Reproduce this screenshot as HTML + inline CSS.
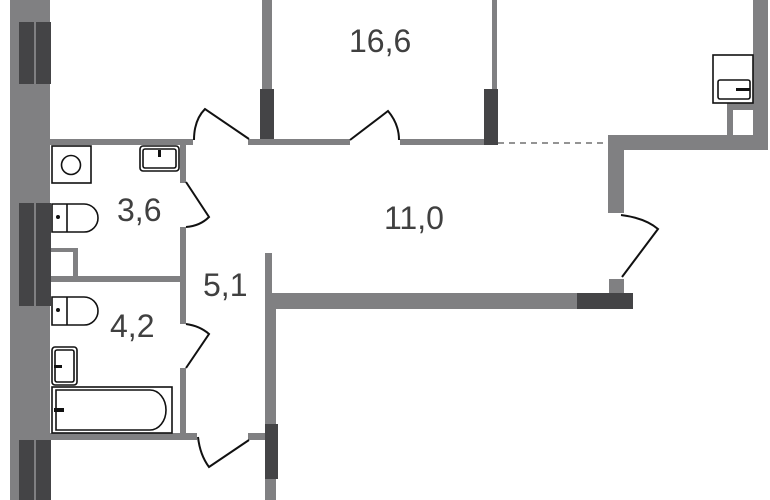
<!DOCTYPE html>
<html><head><meta charset="utf-8"><style>
html,body{margin:0;padding:0;background:#fff;}
svg{display:block;}
text{font-family:"Liberation Sans",Arial,sans-serif;fill:#404040;font-size:32px;}
</style></head><body>
<svg width="770" height="500" viewBox="0 0 770 500" xmlns="http://www.w3.org/2000/svg">
<g fill="#808082">
<rect x="10" y="0" width="40" height="500"/>
<rect x="50" y="139" width="143" height="6"/>
<rect x="248" y="139" width="102" height="6"/>
<rect x="400" y="139" width="90" height="6"/>
<rect x="262" y="0" width="10" height="90"/>
<rect x="492" y="0" width="5" height="90"/>
<rect x="180" y="145" width="6" height="38"/>
<rect x="180" y="227" width="6" height="97"/>
<rect x="180" y="368" width="6" height="72"/>
<rect x="50" y="276" width="136" height="6"/>
<rect x="50" y="248" width="28" height="4"/>
<rect x="73" y="248" width="5" height="30"/>
<rect x="50" y="433" width="147" height="7"/>
<rect x="248" y="433" width="18" height="7"/>
<rect x="265" y="253" width="7" height="56"/>
<rect x="265" y="293" width="313" height="16"/>
<rect x="265" y="309" width="11" height="191"/>
<rect x="608" y="135" width="16" height="78"/>
<rect x="609" y="279" width="15" height="14"/>
<rect x="624" y="135" width="144" height="15"/>
<rect x="753" y="0" width="15" height="150"/>
<rect x="727" y="103" width="6" height="32"/>
<rect x="733" y="103" width="20" height="7"/>
</g>
<g fill="#444446">
<rect x="19" y="22" width="15" height="62"/><rect x="36" y="22" width="15" height="62"/>
<rect x="19" y="203" width="15" height="103"/><rect x="36" y="203" width="15" height="103"/>
<rect x="19" y="440" width="15" height="60"/><rect x="36" y="440" width="15" height="60"/>
<rect x="260" y="89" width="14" height="50"/>
<rect x="484" y="89" width="14" height="56"/>
<rect x="577" y="293" width="56" height="16"/>
<rect x="265" y="424" width="13" height="55"/>
</g>
<line x1="498" y1="143" x2="608" y2="143" stroke="#555" stroke-width="1.2" stroke-dasharray="6,5"/>
<g fill="none" stroke="#111" stroke-width="2">
<path d="M194,140 Q194,120 205,109 L249,139"/>
<path d="M350,140 L388,111 Q399,124 399,140"/>
<path d="M186,182 L209,217 Q200,226 186,227"/>
<path d="M186,324 Q200,326 209,334 L186,368"/>
<path d="M198,437 Q200,455 209,467 L249,440"/>
<path d="M621,215 Q645,218 658,229 L622,277"/>
</g>
<g fill="#fff" stroke="#111" stroke-width="1.6">
<rect x="52" y="146" width="39" height="37"/>
<circle cx="71" cy="165" r="9.5"/>
<rect x="140" y="146" width="39" height="25" rx="3"/>
<rect x="143" y="149" width="33" height="19" rx="2"/>
<path d="M52,204 H84 A14,14 0 0 1 84,232 H52 Z"/>
<line x1="67" y1="204" x2="67" y2="232"/>
<path d="M52,297 H84 A14,14 0 0 1 84,325 H52 Z"/>
<line x1="67" y1="297" x2="67" y2="325"/>
<rect x="52" y="347" width="25" height="38" rx="3"/>
<rect x="55" y="350" width="19" height="32" rx="2"/>
<rect x="52" y="387" width="120" height="46"/>
<path d="M56,390 H150 A16,20 0 0 1 150,430 H56 Z"/>
<rect x="713" y="55" width="40" height="48"/>
<rect x="718" y="80" width="32" height="19" rx="2"/>
</g>
<g fill="#111">
<circle cx="58" cy="217" r="2"/><circle cx="58" cy="310" r="2"/>
<rect x="54" y="365" width="8" height="3"/><rect x="54" y="408" width="10" height="4"/>
<rect x="158" y="150" width="3" height="7"/>
<rect x="736" y="88" width="14" height="3"/>
</g>
<text x="349" y="52">16,6</text>
<text x="117" y="221">3,6</text>
<text x="384" y="229">11,0</text>
<text x="203" y="296">5,1</text>
<text x="110" y="337">4,2</text>
</svg>
</body></html>
